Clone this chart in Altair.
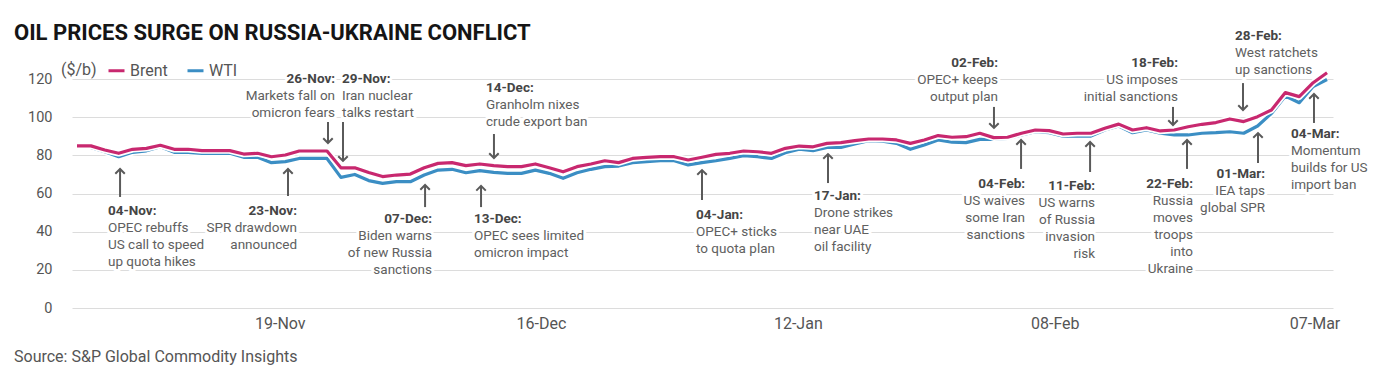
import altair as alt
import pandas as pd

# ---------------- data ----------------
dates = pd.bdate_range("2021-11-01", "2022-03-07")  # weekday index of the x axis

brent = [85.0, 85.0, 82.8, 81.1, 83.2, 83.7, 85.3, 83.2, 83.2, 82.5,
         82.5, 82.5, 80.7, 81.1, 79.3, 80.2, 82.3, 82.3, 82.3, 73.5,
         73.5, 71.0, 68.9, 69.7, 70.2, 73.5, 75.8, 76.2, 74.6, 75.5,
         74.6, 74.1, 74.1, 75.5, 73.5, 71.4, 74.1, 75.5, 77.2, 76.2,
         78.4, 79.0, 79.3, 79.3, 77.6, 79.0, 80.5, 81.1, 82.3, 81.9,
         81.1, 83.7, 84.9, 84.5, 86.3, 86.7, 87.7, 88.6, 88.6, 88.1,
         86.3, 88.1, 90.4, 89.5, 89.8, 91.6, 89.3, 89.5, 91.6, 93.3,
         93.0, 91.2, 91.6, 91.6, 94.2, 96.4, 93.3, 94.5, 92.8, 93.3,
         95.0, 96.3, 97.2, 99.1, 97.7, 100.3, 103.8, 112.9, 110.8, 118.1,
         123.3]

wti = [84.2, 84.2, 81.9, 79.3, 81.6, 82.4, 84.5, 81.6, 81.6, 81.1,
       81.1, 81.1, 79.0, 79.0, 76.2, 76.7, 78.4, 78.4, 78.4, 68.5,
       70.0, 66.8, 65.3, 66.2, 66.2, 69.7, 72.3, 72.7, 70.9, 72.0,
       71.1, 70.6, 70.6, 72.3, 70.6, 68.0, 70.9, 72.7, 74.1, 74.4,
       76.2, 76.7, 77.2, 77.2, 75.0, 76.2, 77.2, 78.4, 79.8, 79.3,
       78.4, 81.4, 83.2, 82.5, 84.2, 84.2, 86.0, 87.7, 87.5, 86.3,
       83.2, 85.4, 88.1, 86.9, 86.7, 88.4, 88.4, 88.9, 90.7, 92.4,
       91.9, 90.1, 90.1, 90.1, 93.3, 95.4, 91.9, 93.3, 91.6, 90.7,
       90.7, 91.6, 91.9, 92.4, 91.6, 95.4, 102.0, 111.1, 107.6, 116.1,
       119.8]

# tick labels and where the reference prints them along the weekday index
tick_pos = [14.6, 33.4, 51.9, 70.4, 89.1]
tick_labels = ["19-Nov", "16-Dec", "12-Jan", "08-Feb", "07-Mar"]
y_ticks = [0, 20, 40, 60, 80, 100, 120]
series_names = ["Brent", "WTI"]

# annotations: label, lines, arrow x (index), arrow tail, arrow tip ($/b),
# text x (index), alignment, header y ($/b)
annotations = [
    ("04-Nov:", ["OPEC rebuffs", "US call to speed", "up quota hikes"], 3.10, 58.2, 72.9, 2.23, "left", 50.8),
    ("23-Nov:", ["SPR drawdown", "announced"], 15.19, 58.7, 72.9, 15.84, "right", 50.8),
    ("26-Nov:", ["Markets fall on", "omicron fears"], 18.07, 97.5, 86.5, 18.58, "right", 120.0),
    ("29-Nov:", ["Iran nuclear", "talks restart"], 19.15, 97.5, 77.1, 19.08, "left", 120.0),
    ("07-Dec:", ["Biden warns", "of new Russia", "sanctions"], 25.06, 52.9, 64.5, 25.56, "right", 46.7),
    ("14-Dec:", ["Granholm nixes", "crude export ban"], 30.02, 91.2, 78.6, 29.45, "left", 115.3),
    ("13-Dec:", ["OPEC sees limited", "omicron impact"], 29.09, 52.9, 64.0, 28.58, "left", 46.7),
    ("04-Jan:", ["OPEC+ sticks", "to quota plan"], 45.00, 56.6, 72.3, 44.57, "left", 48.7),
    ("17-Jan:", ["Drone strikes", "near UAE", "oil facility"], 54.07, 65.5, 80.7, 53.06, "left", 58.7),
    ("02-Feb:", ["OPEC+ keeps", "output plan"], 66.02, 105.4, 94.4, 66.31, "right", 128.4),
    ("04-Feb:", ["US waives", "some Iran", "sanctions"], 67.97, 72.9, 88.1, 68.26, "right", 65.0),
    ("11-Feb:", ["US warns", "of Russia", "invasion", "risk"], 72.94, 71.3, 87.0, 73.30, "right", 64.0),
    ("18-Feb:", ["US imposes", "initial sanctions"], 78.91, 105.4, 95.9, 79.27, "right", 128.4),
    ("22-Feb:", ["Russia", "moves", "troops", "into", "Ukraine"], 79.92, 72.9, 88.1, 80.35, "right", 65.0),
    ("01-Mar:", ["IEA taps", "global SPR"], 85.03, 76.0, 91.7, 85.54, "right", 70.2),
    ("28-Feb:", ["West ratchets", "up sanctions"], 83.95, 117.9, 103.8, 83.38, "left", 142.6),
    ("04-Mar:", ["Momentum", "builds for US", "import ban"], 89.06, 97.0, 112.2, 87.40, "left", 91.2),
]

TITLE = "OIL PRICES SURGE ON RUSSIA-UKRAINE CONFLICT"
SOURCE = "Source: S&P Global Commodity Insights"

# ---------------- styling ----------------
FONT = "Roboto"
PINK = "#c8286f"
BLUE = "#3b8ec4"
GRID = "#dcdcdc"
AXIS_TXT = "#555555"
HEAD_C = "#454545"
BODY_C = "#606060"
ARROW_C = "#5a5a5a"
W, H = 1261, 248
LINE_STEP = 8.91  # 17 px in $/b units

# ---------------- tables ----------------
df = pd.DataFrame({"idx": range(len(dates)), "date": dates.strftime("%d-%b"),
                   "Brent": brent, "WTI": wti})
long = df.melt(id_vars=["idx", "date"], value_vars=series_names,
               var_name="series", value_name="price")

arrows = pd.DataFrame([
    {"x": a[2], "tail": a[3], "tip": a[4], "dir": "up" if a[4] > a[3] else "down"}
    for a in annotations])

rows = []
for lab, lines, ax, tail, tip, tx, align, hy in annotations:
    rows.append({"x": tx, "y": hy, "t": lab, "bold": True, "align": align})
    for k, ln in enumerate(lines, start=1):
        rows.append({"x": tx, "y": hy - k * LINE_STEP, "t": ln, "bold": False, "align": align})
texts = pd.DataFrame(rows)

xs = alt.Scale(domain=[-0.36, 90.43], nice=False, zero=False)
ys = alt.Scale(domain=[0, 130], nice=False, zero=True)

label_expr = "".join(f"abs(datum.value - {p}) < 0.01 ? '{l}' : "
                     for p, l in zip(tick_pos, tick_labels)) + "''"

x_axis = alt.Axis(values=tick_pos, labelExpr=label_expr, grid=False, domain=False, ticks=False,
                  labelPadding=7, labelFontSize=16, labelColor=AXIS_TXT, labelFont=FONT,
                  labelFlush=False, title="")
y_axis = alt.Axis(values=y_ticks, grid=True, gridColor=GRID, gridWidth=1, domain=False, ticks=False,
                  labelPadding=20, labelFontSize=14.5, labelColor=AXIS_TXT, labelFont=FONT, title="")


def X(field):
    return alt.X(field, type="quantitative", scale=xs, axis=x_axis)


def Y(field):
    return alt.Y(field, type="quantitative", scale=ys, axis=y_axis)


color_scale = alt.Scale(domain=series_names, range=[PINK, BLUE])
legend = alt.Legend(orient="none", legendX=-11, legendY=1, direction="horizontal",
                    title="($/b)", titleOrient="left", titleFontSize=16, titleFontWeight="normal",
                    titleColor=AXIS_TXT, titleFont=FONT, titlePadding=10,
                    labelFontSize=16, labelColor=AXIS_TXT, labelFont=FONT, labelOffset=4,
                    symbolType="stroke", symbolStrokeWidth=3, symbolSize=256, columnPadding=13,
                    padding=0)

layers = []

# text halos + texts
for align in ["left", "right"]:
    for bold in [True, False]:
        sub = texts[(texts["align"] == align) & (texts["bold"] == bold)]
        base = dict(align=align, baseline="middle", font=FONT, fontSize=13.5,
                    fontWeight="bold" if bold else "normal")
        layers.append(alt.Chart(sub).mark_text(color="white", stroke="white", strokeWidth=6,
                                               strokeJoin="round", **base).encode(
            x=X("x"), y=Y("y"), text="t:N"))
        layers.append(alt.Chart(sub).mark_text(color=HEAD_C if bold else BODY_C, **base).encode(
            x=X("x"), y=Y("y"), text="t:N"))

# price lines (WTI first, Brent on top), each with a white edge
for s in ["WTI", "Brent"]:
    sub = long[long["series"] == s]
    layers.append(alt.Chart(sub).mark_line(color="white", strokeWidth=6.5, strokeJoin="round").encode(
        x=X("idx"), y=Y("price")))
    layers.append(alt.Chart(sub).mark_line(strokeWidth=3.2, strokeJoin="round").encode(
        x=X("idx"), y=Y("price"),
        color=alt.Color("series:N", scale=color_scale, legend=legend)))

# arrows
layers.append(alt.Chart(arrows).mark_rule(color=ARROW_C, strokeWidth=2).encode(
    x=X("x"), y=Y("tail"), y2="tip:Q"))
layers.append(alt.Chart(arrows).mark_point(filled=False, color=ARROW_C, strokeWidth=2, size=90,
                                           opacity=1).encode(
    x=X("x"), y=Y("tip"),
    shape=alt.Shape("dir:N", scale=alt.Scale(domain=["up", "down"],
                                             range=["M-1,1L0,0L1,1", "M-1,-1L0,0L1,-1"]),
                    legend=None)))

# title and source
layers.append(alt.Chart(pd.DataFrame({"t": [TITLE]})).mark_text(
    align="left", baseline="middle", font=FONT, fontSize=22, fontWeight="bold",
    color="#151515").encode(x=alt.value(-58), y=alt.value(-27), text="t:N"))
layers.append(alt.Chart(pd.DataFrame({"t": [SOURCE]})).mark_text(
    align="left", baseline="middle", font=FONT, fontSize=16, color=AXIS_TXT).encode(
    x=alt.value(-58), y=alt.value(297), text="t:N"))

chart = alt.layer(*layers).properties(
    width=W, height=H,
    padding={"left": 64, "top": 52, "right": 39, "bottom": 60},
    autosize=alt.AutoSizeParams(type="none"),
    background="white",
).configure_view(strokeWidth=0, strokeOpacity=0)

chart.save("out.html", embed_options={"renderer": "svg", "actions": False})
